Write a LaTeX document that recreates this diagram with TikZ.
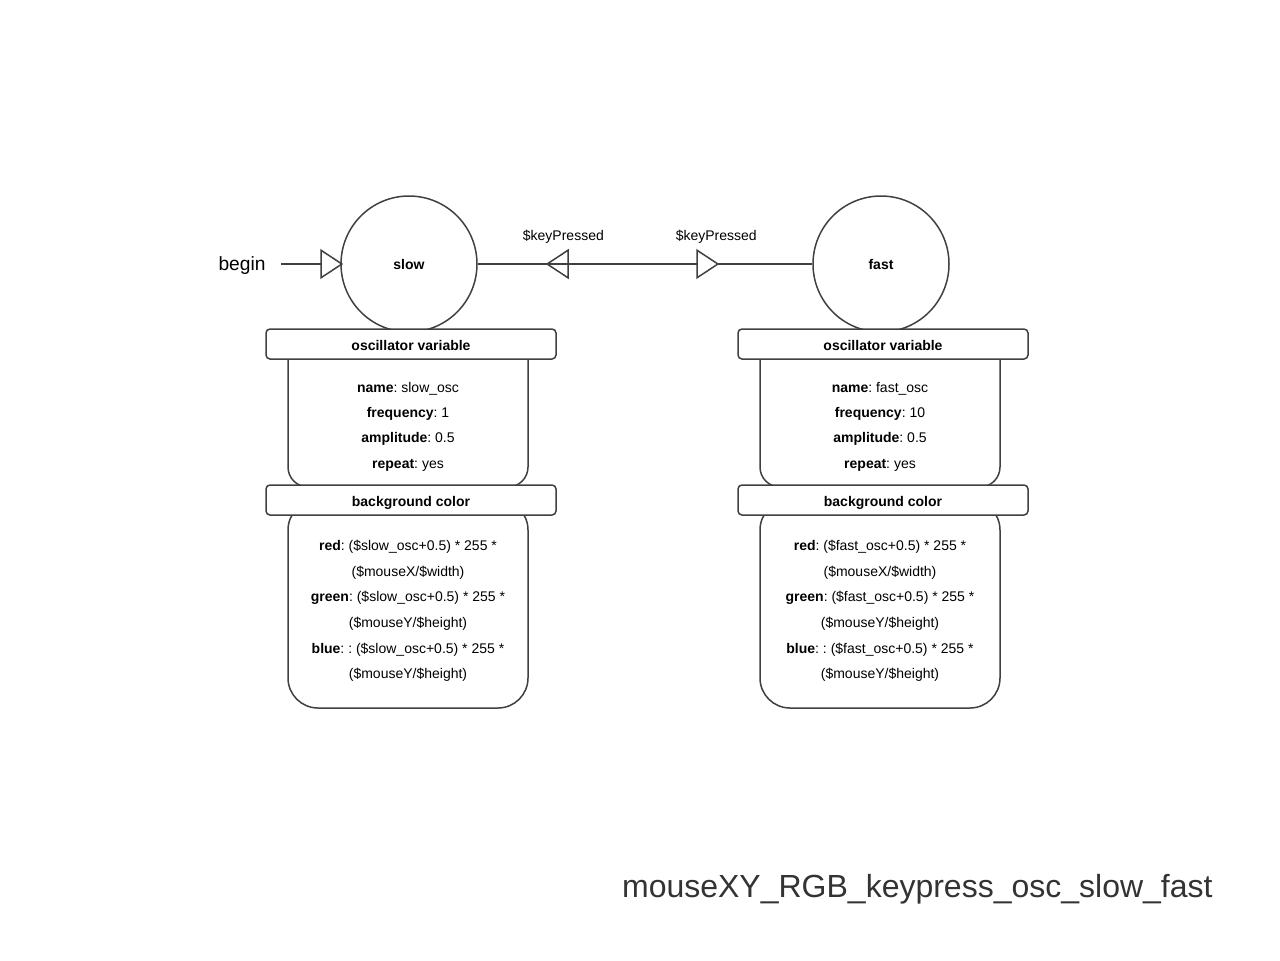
\documentclass[tikz,border=0pt]{standalone}
\usepackage{fontspec}
\setmainfont{Liberation Sans}
\frenchspacing
\usetikzlibrary{arrows.meta}
\definecolor{linegray}{HTML}{404040}
\definecolor{titlegray}{HTML}{333333}

\begin{document}
\begin{tikzpicture}
        [x=0.5pt, y=-0.5pt,
        state/.style={circle, draw=linegray, fill=white, line width=0.75pt,
           minimum size=68pt, inner sep=0pt, font=\bfseries\fontsize{7}{8}\selectfont},
        header/.style={draw=linegray, fill=white, line width=0.75pt, rounded corners=2pt,
           minimum width=145pt, minimum height=15pt, inner sep=0pt,
           text height=7.6pt, text depth=1.2pt,
           font=\bfseries\fontsize{7}{8}\selectfont},
        body/.style={draw=linegray, fill=white, line width=0.75pt, minimum width=120pt, inner sep=0pt},
        info/.style={align=center, inner sep=0pt, font=\fontsize{7}{12.5}\selectfont},
        tr/.style={draw=linegray, line width=0.75pt,
           -{Triangle[open, length=11.5pt, width=15pt, fill=white]}},
        lbl/.style={font=\fontsize{7}{8}\selectfont, inner sep=0pt}]
        \useasboundingbox (0,0) rectangle (1280,960);
        % states
        \node (slow) at (409,264) [state] {slow};
        \node (fast) at (881,264) [state] {fast};
        \node (begin) at (242,266) [anchor=center, inner sep=0pt,
           font=\fontsize{9.6}{11}\selectfont] {begin};
        % slow boxes
        \node (slowbody) at (408,408.5) [body, minimum height=78.5pt, rounded corners=10pt] {};
        \node (slowbgbody) at (408,604) [body, minimum height=104pt, rounded corners=15pt] {};
        \node (slowvar) at (411,344) [header] {oscillator variable};
        \node (slowbg) at (411,500) [header] {background color};
        \node (slowinfo) at (408,427) [info]
           {\textbf{name}: slow\_osc\\ \textbf{frequency}: 1\\ \textbf{amplitude}: 0.5\\[0.5pt] \textbf{repeat}: yes};
        \node (slowrgb) at (408,611) [info, font=\fontsize{7}{12.8}\selectfont]
           {\textbf{red}: (\$slow\_osc+0.5) * 255 *\\ (\$mouseX/\$width)\\
            \textbf{green}: (\$slow\_osc+0.5) * 255 *\\ (\$mouseY/\$height)\\
            \textbf{blue}: : (\$slow\_osc+0.5) * 255 *\\ (\$mouseY/\$height)};
        % fast boxes
        \node (fastbody) at (880,408.5) [body, minimum height=78.5pt, rounded corners=10pt] {};
        \node (fastbgbody) at (880,604) [body, minimum height=104pt, rounded corners=15pt] {};
        \node (fastvar) at (883,344) [header] {oscillator variable};
        \node (fastbg) at (883,500) [header] {background color};
        \node (fastinfo) at (880,427) [info]
           {\textbf{name}: fast\_osc\\ \textbf{frequency}: 10\\ \textbf{amplitude}: 0.5\\[0.5pt] \textbf{repeat}: yes};
        \node (fastrgb) at (880,611) [info, font=\fontsize{7}{12.8}\selectfont]
           {\textbf{red}: (\$fast\_osc+0.5) * 255 *\\ (\$mouseX/\$width)\\
            \textbf{green}: (\$fast\_osc+0.5) * 255 *\\ (\$mouseY/\$height)\\
            \textbf{blue}: : (\$fast\_osc+0.5) * 255 *\\ (\$mouseY/\$height)};
        % transitions
        \draw[tr, shorten <=7.5pt, shorten >=-1.5pt] (begin.east |- slow) -- (slow);
        \draw[tr, shorten >=34pt] (fast) -- (slow)
           node[lbl, pos=0.744, yshift=13.5pt] {\$keyPressed};
        \draw[tr, shorten >=46.5pt] (slow) -- (fast)
           node[lbl, pos=0.713, yshift=13.5pt] {\$keyPressed};
        % title
        \node (title) at (1213,897) [anchor=base east, inner sep=0pt, text=titlegray,
           font=\fontsize{16}{19}\selectfont] {mouseXY\_RGB\_keypress\_osc\_slow\_fast};
     \end{tikzpicture}
\end{document}
